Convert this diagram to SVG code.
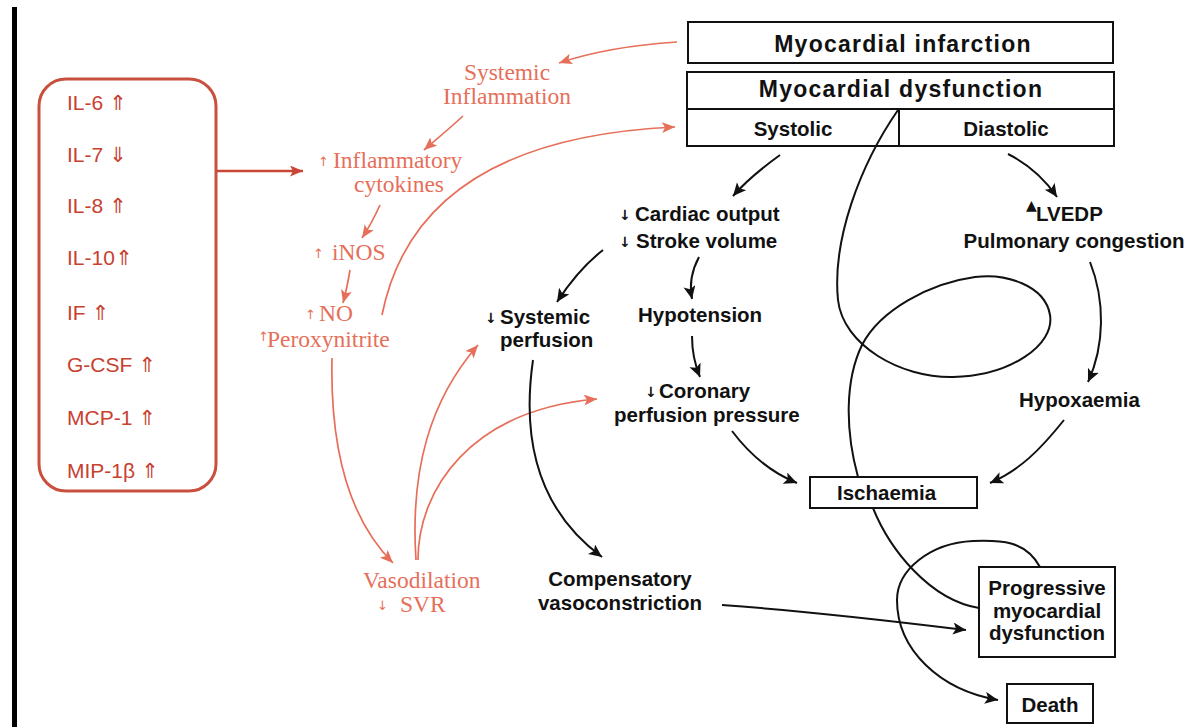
<svg xmlns="http://www.w3.org/2000/svg" width="1192" height="727" viewBox="0 0 1192 727">
<defs>
<style>
.bk{font-family:"Liberation Sans",Arial,sans-serif;font-weight:bold;font-size:20.5px;fill:#111}
.hd{font-family:"Liberation Sans",Arial,sans-serif;font-weight:bold;font-size:23px;letter-spacing:1.25px;fill:#111}
.sm{font-family:"DejaVu Sans",sans-serif;font-weight:bold;font-size:14px;fill:#111}
.rs{font-family:"Liberation Serif","Times New Roman",serif;font-size:23.5px;fill:#e66f5a}
.ra{font-family:"DejaVu Sans",sans-serif;font-size:13px;fill:#e66f5a}
.lb{font-family:"Liberation Sans",Arial,sans-serif;font-size:21px;fill:#c8412f}
.ar{font-family:"DejaVu Sans",sans-serif;font-size:21px;fill:#c8412f}
.box{fill:#fff;stroke:#111;stroke-width:2}
.cb{fill:none;stroke:#111;stroke-width:2}
.cr{fill:none;stroke:#e66f5a;stroke-width:1.7}
</style>
<marker id="ab" markerUnits="userSpaceOnUse" markerWidth="16" markerHeight="14" refX="13" refY="6" orient="auto"><path d="M0,0 L13,6 L0,12 L3,6 z" fill="#111"/></marker>
<marker id="archr" markerUnits="userSpaceOnUse" markerWidth="16" markerHeight="14" refX="13" refY="5.5" orient="auto"><path d="M0,0 L13,5.5 L0,11 L3,5.5 z" fill="#e66f5a"/></marker>
<marker id="ard" markerUnits="userSpaceOnUse" markerWidth="16" markerHeight="14" refX="13" refY="5.5" orient="auto"><path d="M0,0 L13,5.5 L0,11 L3,5.5 z" fill="#c94535"/></marker>
</defs>
<rect x="0" y="0" width="1192" height="727" fill="#fff"/>
<rect x="12" y="7" width="5" height="720" fill="#000"/>

<g id="cytokine-list">
<rect x="39" y="79" width="177" height="412" rx="27" fill="none" stroke="#c9503f" stroke-width="3"/>
<text class="lb" x="67" y="110">IL-6 <tspan class="ar">⇑</tspan></text>
<text class="lb" x="67" y="162">IL-7 <tspan class="ar">⇓</tspan></text>
<text class="lb" x="67" y="213">IL-8 <tspan class="ar">⇑</tspan></text>
<text class="lb" x="67" y="265">IL-10<tspan class="ar">⇑</tspan></text>
<text class="lb" x="67" y="320">IF <tspan class="ar">⇑</tspan></text>
<text class="lb" x="67" y="372">G-CSF <tspan class="ar">⇑</tspan></text>
<text class="lb" x="67" y="425">MCP-1 <tspan class="ar">⇑</tspan></text>
<text class="lb" x="67" y="478">MIP-1β <tspan class="ar">⇑</tspan></text>
</g>

<g id="systemic-inflammation"><text class="rs" x="507" y="80" text-anchor="middle">Systemic</text><text class="rs" x="507" y="104" text-anchor="middle">Inflammation</text></g>
<g id="inflammatory-cytokines"><text class="ra" x="318" y="166">↑</text><text class="rs" x="333" y="168">Inflammatory</text><text class="rs" x="399" y="192" text-anchor="middle">cytokines</text></g>
<g id="inos"><text class="ra" x="313" y="258">↑</text><text class="rs" x="332" y="260">iNOS</text></g>
<g id="no"><text class="ra" x="305" y="319">↑</text><text class="rs" x="319" y="321">NO</text><text class="ra" x="258" y="341">↑</text><text class="rs" x="267" y="347">Peroxynitrite</text></g>
<g id="vasodilation"><text class="rs" x="363" y="588">Vasodilation</text><text class="ra" x="377" y="610">↓</text><text class="rs" x="400" y="612">SVR</text></g>

<g id="myocardial-infarction"><rect class="box" x="688" y="22" width="425" height="41"/><text class="hd" x="903" y="52" text-anchor="middle">Myocardial infarction</text></g>
<g id="myocardial-dysfunction"><rect class="box" x="687" y="72" width="427" height="74"/><line x1="687" y1="109" x2="1114" y2="109" stroke="#111" stroke-width="2"/><line x1="899" y1="109" x2="899" y2="146" stroke="#111" stroke-width="2"/><text class="hd" x="901" y="97" text-anchor="middle">Myocardial dysfunction</text><text class="bk" x="793" y="136" text-anchor="middle">Systolic</text><text class="bk" x="1006" y="136" text-anchor="middle">Diastolic</text></g>

<g id="cardiac-output"><text class="sm" x="619" y="220">↓</text><text class="bk" x="635" y="221">Cardiac output</text><text class="sm" x="619" y="247">↓</text><text class="bk" x="636" y="248">Stroke volume</text></g>
<g id="lvedp"><text class="sm" x="1026" y="210" font-size="7">▲</text><text class="bk" x="1036" y="221">LVEDP</text><text class="bk" x="1074" y="248" text-anchor="middle">Pulmonary congestion</text></g>
<g id="systemic-perfusion"><text class="sm" x="485" y="323">↓</text><text class="bk" x="500" y="324">Systemic</text><text class="bk" x="500" y="347">perfusion</text></g>
<g id="hypotension"><text class="bk" x="638" y="322">Hypotension</text></g>
<g id="coronary"><text class="sm" x="645" y="397">↓</text><text class="bk" x="659" y="398">Coronary</text><text class="bk" x="614" y="422">perfusion pressure</text></g>
<g id="hypoxaemia"><text class="bk" x="1019" y="407">Hypoxaemia</text></g>
<g id="ischaemia"><rect class="box" x="810" y="477" width="167" height="31"/><text class="bk" x="837" y="500">Ischaemia</text></g>
<g id="compensatory"><text class="bk" x="620" y="586" text-anchor="middle">Compensatory</text><text class="bk" x="620" y="610" text-anchor="middle">vasoconstriction</text></g>
<g id="progressive"><rect class="box" x="979" y="567" width="136" height="90"/><text class="bk" x="1047" y="595" text-anchor="middle">Progressive</text><text class="bk" x="1047" y="618" text-anchor="middle">myocardial</text><text class="bk" x="1047" y="640" text-anchor="middle">dysfunction</text></g>
<g id="death"><rect class="box" x="1007" y="684" width="86" height="39"/><text class="bk" x="1050" y="712" text-anchor="middle">Death</text></g>

<g id="connectors">
<path d="M217,171 L303,171" fill="none" stroke="#c94535" stroke-width="2.5" marker-end="url(#ard)"/>
<path class="cr" d="M677,42 C630,45 592,52 559,63" marker-end="url(#archr)"/>
<path class="cr" d="M463,116 C450,128 438,138 424,150" marker-end="url(#archr)"/>
<path class="cr" d="M380,205 C375,216 370,226 362,238" marker-end="url(#archr)"/>
<path class="cr" d="M350,270 C348,282 346,292 343,303" marker-end="url(#archr)"/>
<path class="cr" d="M382,315 C405,200 500,135 675,127" marker-end="url(#archr)"/>
<path class="cr" d="M332,358 C330,450 350,520 393,563" marker-end="url(#archr)"/>
<path class="cr" d="M416,560 C410,470 430,400 478,345" marker-end="url(#archr)"/>
<path class="cr" d="M418,560 C418,490 470,410 597,399" marker-end="url(#archr)"/>

<path class="cb" d="M780,155 C762,168 746,181 733,196" marker-end="url(#ab)"/>
<path class="cb" d="M1008,154 C1028,164 1044,178 1057,197" marker-end="url(#ab)"/>
<path class="cb" d="M603,250 C585,264 570,282 557,302" marker-end="url(#ab)"/>
<path class="cb" d="M699,257 C692,270 689,284 692,299" marker-end="url(#ab)"/>
<path class="cb" d="M692,336 C692,352 695,365 700,377" marker-end="url(#ab)"/>
<path class="cb" d="M732,431 C750,455 770,472 797,483" marker-end="url(#ab)"/>
<path class="cb" d="M1064,420 C1040,450 1020,470 990,483" marker-end="url(#ab)"/>
<path class="cb" d="M1090,262 C1105,300 1105,345 1088,382" marker-end="url(#ab)"/>
<path class="cb" d="M533,360 C520,450 545,515 602,557" marker-end="url(#ab)"/>
<path class="cb" d="M722,605 C820,612 900,622 966,630" marker-end="url(#ab)"/>
<path class="cb" d="M898,110 C860,165 832,240 838,300 C843,345 900,378 953,377 C1010,376 1055,345 1050,315 C1045,285 1005,273 975,277 C930,283 880,310 862,345 C845,380 845,430 858,477"/>
<path class="cb" d="M873,508 C890,550 930,600 979,608"/>
<path class="cb" d="M1040,567 C1025,540 1000,540 973,541 C930,543 897,570 897,600 C897,650 940,690 998,700" marker-end="url(#ab)"/>
</g>
</svg>
